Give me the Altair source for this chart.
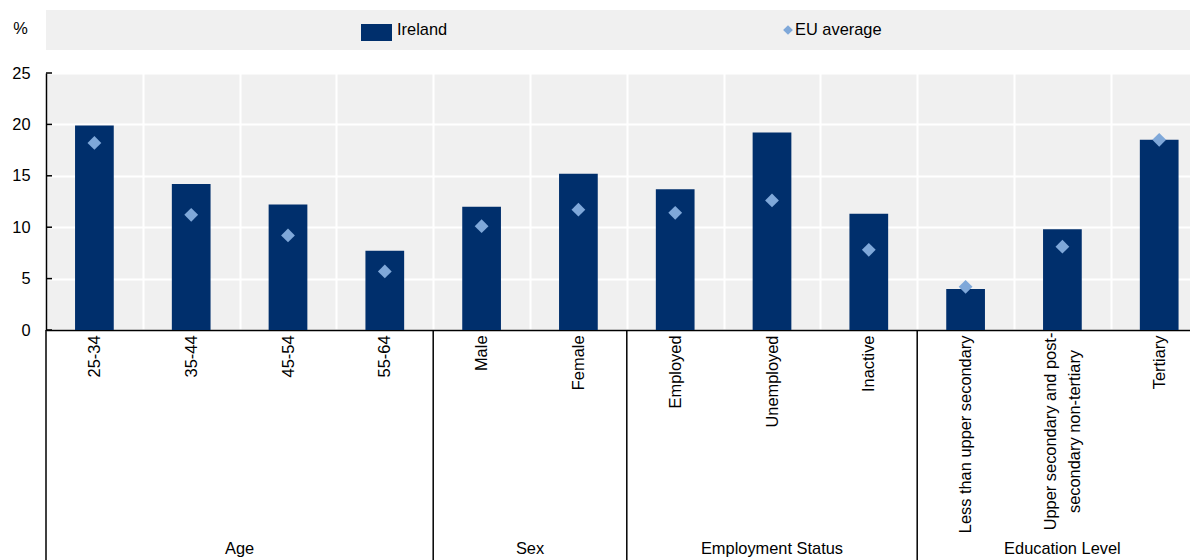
import altair as alt
import pandas as pd

# ---------------- data ----------------
groups = ["Age", "Age", "Age", "Age", "Sex", "Sex",
          "Employment Status", "Employment Status", "Employment Status",
          "Education Level", "Education Level", "Education Level"]
categories = ["25-34", "35-44", "45-54", "55-64", "Male", "Female",
              "Employed", "Unemployed", "Inactive",
              "Less than upper secondary",
              "Upper secondary and post-secondary non-tertiary",
              "Tertiary"]
ireland = [19.9, 14.2, 12.2, 7.7, 12.0, 15.2, 13.7, 19.2, 11.3, 4.0, 9.8, 18.5]
eu_average = [18.2, 11.2, 9.2, 5.7, 10.1, 11.7, 11.4, 12.6, 7.8, 4.2, 8.1, 18.5]
y_ticks = [0, 5, 10, 15, 20, 25]
series_names = ["Ireland", "EU average"]

# ---------------- styles ----------------
FONT = "Liberation Sans, Arial, sans-serif"
FS = 16.4
BAR = "#002F6C"
EU = "#7FA8D9"
BG = "#F0F0F0"
W, H = 1144, 257
STEP = 96.8
FULL = STEP * len(categories)
QMAX = W / STEP
PAD = {"left": 38, "top": 65, "right": 0, "bottom": 230}
BOTTOM = H + PAD["bottom"]

df = pd.DataFrame({"group": groups, "category": categories,
                   "ireland": ireland, "eu": eu_average})

# group spans derived from the group list
g_names, g_start, g_end = [], [], []
for i, g in enumerate(groups):
    if not g_names or g_names[-1] != g:
        g_names.append(g); g_start.append(i); g_end.append(i + 1)
    else:
        g_end[-1] = i + 1
gdf = pd.DataFrame({"group": g_names, "start": g_start,
                    "mid": [(a + b) / 2 for a, b in zip(g_start, g_end)]})

LONG = "Upper secondary and post-secondary non-tertiary"
TEST = f"datum.label == '{LONG}'"
label_expr = f"{TEST} ? ['Upper secondary and post-', 'secondary non-tertiary'] : datum.label"

xscale = alt.Scale(domain=categories, range=[0, FULL], paddingInner=0, paddingOuter=0)
xaxis = alt.Axis(title=None, labelAngle=-90, labelLimit=400,
                 labelPadding={"condition": {"test": TEST, "value": 101}, "value": 5},
                 labelAlign={"condition": {"test": TEST, "value": "center"}, "value": "right"},
                 labelOffset={"condition": {"test": TEST, "value": -12}, "value": 0},
                 labelFontSize=FS, labelColor="#000", ticks=False,
                 domainColor="#000", domainWidth=1.5, grid=True,
                 gridColor="#FFFFFF", gridWidth=2, tickBand="extent",
                 labelExpr=label_expr, labelLineHeight=24)
yscale = alt.Scale(domain=[0, 25], nice=False)
yaxis = alt.Axis(values=y_ticks, title="%", titleAngle=0, titleX=-26, titleY=-45,
                 titleAlign="center", titleBaseline="middle", titleFontSize=FS,
                 titleFontWeight="normal", titleColor="#000",
                 labelFontSize=FS, labelColor="#000", labelPadding=16,
                 ticks=False, tickSize=0, domainColor="#000", domainWidth=1.5,
                 grid=True, gridColor="#FFFFFF", gridWidth=2)

base = alt.Chart(df)
bars = base.mark_bar(color=BAR, width=alt.RelativeBandSize(0.4)).encode(
    x=alt.X("category:N", sort=categories, scale=xscale, axis=xaxis),
    y=alt.Y("ireland:Q", scale=yscale, axis=yaxis),
)
points = base.mark_point(shape="diamond", filled=True, size=190, color=EU, opacity=1).encode(
    x=alt.X("category:N", sort=categories, scale=xscale, axis=xaxis),
    y=alt.Y("eu:Q", scale=yscale, axis=yaxis),
)
tick_df = pd.DataFrame({"tick": y_ticks})
inward_ticks = alt.Chart(tick_df).mark_rule(color="#000", strokeWidth=1.5).encode(
    y=alt.Y("tick:Q", scale=yscale, axis=yaxis),
    x=alt.value(0), x2=alt.value(6),
)

main = alt.layer(bars, points, inward_ticks)

qscale = alt.Scale(domain=[0, QMAX], nice=False, zero=False)
separators = alt.Chart(gdf).mark_rule(color="#000", strokeWidth=1.5).encode(
    x=alt.X("start:Q", scale=qscale, axis=None),
    y=alt.value(H), y2=alt.value(BOTTOM),
)
group_text = alt.Chart(gdf).mark_text(fontSize=FS, color="#000", baseline="middle",
                                      align="center").encode(
    x=alt.X("mid:Q", scale=qscale, axis=None),
    y=alt.value(476),
    text="group:N",
)
groups_layer = alt.layer(separators, group_text)

# legend band (drawn manually)
one = pd.DataFrame({"series": ["band"]})
band = alt.Chart(one).mark_rect(color=BG).encode(
    x=alt.value(0), x2=alt.value(W), y=alt.value(-63), y2=alt.value(-23))
leg_df = pd.DataFrame({"series": series_names})
leg_square = alt.Chart(leg_df).transform_filter("datum.series == 'Ireland'").mark_rect(color=BAR).encode(
    x=alt.value(315), x2=alt.value(346), y=alt.value(-49), y2=alt.value(-32))
leg_diamond = alt.Chart(leg_df).transform_filter("datum.series == 'EU average'").mark_point(
    shape="diamond", filled=True, size=95, color=EU, opacity=1).encode(
    x=alt.value(742), y=alt.value(-43))
leg_text_ie = alt.Chart(leg_df).transform_filter("datum.series == 'Ireland'").mark_text(
    fontSize=FS, color="#000", align="left", baseline="middle").encode(
    x=alt.value(351), y=alt.value(-43), text="series:N")
leg_text_eu = alt.Chart(leg_df).transform_filter("datum.series == 'EU average'").mark_text(
    fontSize=FS, color="#000", align="left", baseline="middle").encode(
    x=alt.value(749), y=alt.value(-43), text="series:N")
legend = alt.layer(band, leg_square, leg_diamond, leg_text_ie, leg_text_eu)

chart = alt.layer(main, groups_layer, legend).resolve_scale(x="independent").properties(
    width=W, height=H, padding=PAD, autosize=alt.AutoSizeParams(type="none")
).configure(font=FONT).configure_view(fill=BG, strokeWidth=0)

chart.save("out.html", embed_options={"renderer": "svg", "actions": False})
